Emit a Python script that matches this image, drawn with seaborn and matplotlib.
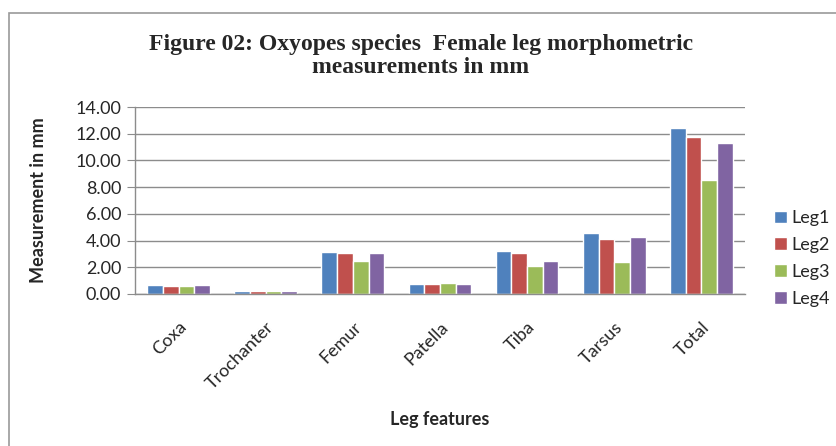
import numpy as np
import pandas as pd
import matplotlib
matplotlib.use("Agg")
import matplotlib.pyplot as plt
import seaborn as sns
from matplotlib.patches import Rectangle

features = ["Coxa", "Trochanter", "Femur", "Patella", "Tiba", "Tarsus", "Total"]
legs = ["Leg1", "Leg2", "Leg3", "Leg4"]

leg1 = [0.67, 0.22, 3.12, 0.77, 3.24, 4.55, 12.41]
leg2 = [0.60, 0.22, 3.05, 0.77, 3.10, 4.12, 11.74]
leg3 = [0.60, 0.22, 2.47, 0.82, 2.10, 2.40, 8.54]
leg4 = [0.67, 0.22, 3.05, 0.75, 2.47, 4.27, 11.33]

colors = ["#4F81BD", "#C0504D", "#9BBB59", "#8064A2"]


def build_frame():
    rows = []
    for leg, vals in zip(legs, [leg1, leg2, leg3, leg4]):
        for feat, v in zip(features, vals):
            rows.append({"feature": feat, "leg": leg, "value": v})
    return pd.DataFrame(rows)


def make_plot():
    df = build_frame()

    sns.set_style("white")
    plt.rcParams["font.family"] = ["Lato", "DejaVu Sans"]

    fig = plt.figure(figsize=(8.36, 4.46), dpi=100)
    ax = fig.add_axes([0.1615, 0.341, 0.7295, 0.419])

    # outer chart border (Excel style)
    fig.patches.append(Rectangle((9 / 836, -0.05), 1.2, (446 - 13) / 446 + 0.05,
                                 transform=fig.transFigure, fill=False,
                                 edgecolor="#9a9a9a", linewidth=1.2))

    sns.barplot(data=df, x="feature", y="value", hue="leg", order=features,
                hue_order=legs, palette=colors, width=0.72, saturation=1,
                errorbar=None, ax=ax)

    ax.set_ylim(0, 14)
    ax.set_xlim(-0.5, 6.5)
    ax.set_yticks(np.arange(0, 15, 2))
    ax.set_yticklabels([f"{t:.2f}" for t in np.arange(0, 15, 2)], fontsize=13)
    ax.yaxis.grid(True, color="#8c8c8c", linewidth=1)
    ax.set_axisbelow(True)
    ax.tick_params(axis="y", length=6, color="#8c8c8c", pad=4, left=True)
    ax.tick_params(axis="x", length=0, pad=18)
    plt.setp(ax.get_xticklabels(), rotation=45, ha="right",
             rotation_mode="anchor", fontsize=13)

    for side in ["top", "right"]:
        ax.spines[side].set_visible(False)
    for side in ["left", "bottom"]:
        ax.spines[side].set_color("#8c8c8c")
        ax.spines[side].set_linewidth(1)

    ax.set_ylabel("Measurement in mm", fontsize=13, fontweight="bold")
    ax.set_xlabel("Leg features", fontsize=13, fontweight="bold")
    ax.yaxis.set_label_coords(-0.144, 0.5)
    ax.xaxis.set_label_coords(0.5, -0.627)

    fig.text(0.503, 0.874, "Figure 02: Oxyopes species  Female leg morphometric\nmeasurements in mm",
             ha="center", va="center", fontsize=17, fontweight="bold",
             family="Liberation Serif", linespacing=1.1)

    ax.legend(loc="center left", bbox_to_anchor=(1.048, 0.19), frameon=False,
              fontsize=13, handlelength=0.7, handleheight=0.7,
              labelspacing=0.6, handletextpad=0.25, borderpad=0,
              borderaxespad=0)

    fig.savefig("out.png", dpi=100)


if __name__ == "__main__":
    make_plot()
